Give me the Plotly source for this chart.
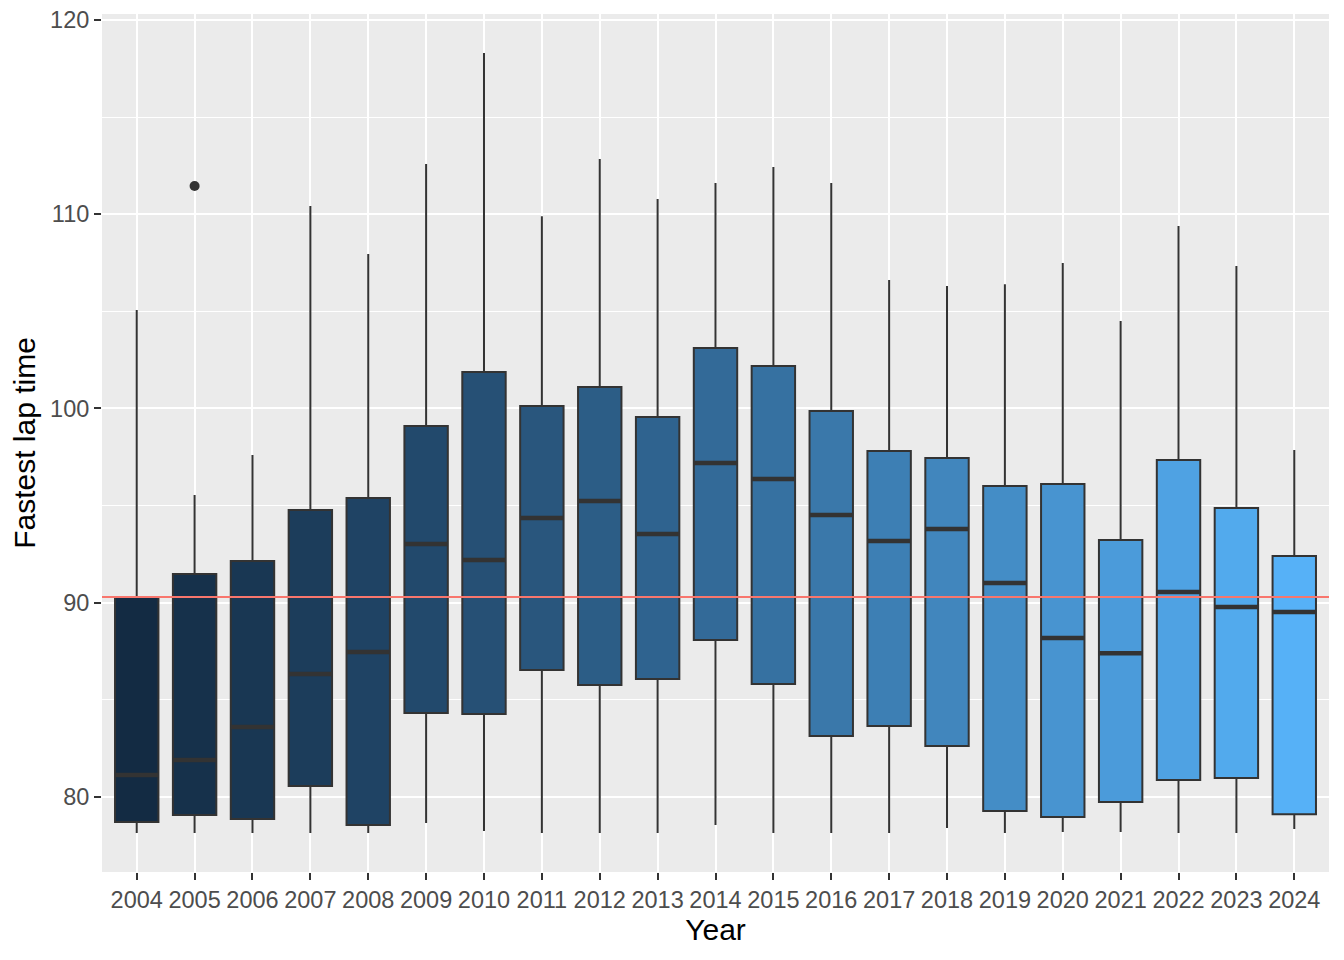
import plotly.graph_objects as go
import numpy as np

years = list(range(2004, 2025))
upper_whisker = [105.07, 95.54, 97.60, 110.42, 107.95, 112.58, 118.30, 109.90, 112.84, 110.78, 111.61,
                 112.43, 111.61, 106.61, 106.30, 106.40, 107.49, 104.50, 109.39, 107.33, 97.86]
q3 = [90.29, 91.47, 92.14, 94.77, 95.39, 99.10, 101.87, 100.12, 101.10, 99.56, 103.11,
      102.18, 99.87, 97.81, 97.45, 96.00, 96.11, 93.22, 97.34, 94.87, 92.40]
medians = [81.12, 81.90, 83.60, 86.32, 87.46, 93.02, 92.20, 94.36, 95.23, 93.53, 97.19,
           96.36, 94.51, 93.17, 93.79, 91.01, 88.18, 87.40, 90.55, 89.77, 89.52]
q1 = [78.70, 79.06, 78.86, 80.56, 78.55, 84.32, 84.27, 86.53, 85.76, 86.07, 88.07,
      85.81, 83.13, 83.65, 82.62, 79.27, 78.96, 79.73, 80.87, 80.97, 79.11]
lower_whisker = [78.14, 78.14, 78.14, 78.14, 78.14, 78.65, 78.24, 78.14, 78.14, 78.14, 78.55,
                 78.14, 78.14, 78.14, 78.39, 78.14, 78.19, 78.19, 78.14, 78.14, 78.34]
outlier_years = [2005]
outlier_values = [111.45]
reference_line = 90.29


# ggplot2 default continuous fill: gradient #132B43 -> #56B1F7 in Lab space
def hex_to_rgb(h):
    h = h.lstrip('#')
    return [int(h[i:i + 2], 16) / 255 for i in (0, 2, 4)]


def srgb_to_lin(c):
    return np.where(c <= 0.04045, c / 12.92, ((c + 0.055) / 1.055) ** 2.4)


def lin_to_srgb(c):
    c = np.clip(c, 0, 1)
    return np.where(c <= 0.0031308, 12.92 * c, 1.055 * c ** (1 / 2.4) - 0.055)


M = np.array([[0.4124, 0.3576, 0.1805], [0.2126, 0.7152, 0.0722], [0.0193, 0.1192, 0.9505]])
Minv = np.linalg.inv(M)
white = np.array([0.95047, 1.0, 1.08883])


def f(t):
    d = 6 / 29
    return np.where(t > d ** 3, np.cbrt(t), t / (3 * d * d) + 4 / 29)


def finv(t):
    d = 6 / 29
    return np.where(t > d, t ** 3, 3 * d * d * (t - 4 / 29))


def to_lab(h):
    xyz = M @ srgb_to_lin(np.array(hex_to_rgb(h))) / white
    fx, fy, fz = f(xyz)
    return np.array([116 * fy - 16, 500 * (fx - fy), 200 * (fy - fz)])


def from_lab(lab):
    L, a, b = lab
    fy = (L + 16) / 116
    fx = fy + a / 500
    fz = fy - b / 200
    xyz = np.array([finv(fx), finv(fy), finv(fz)]) * white
    rgb = lin_to_srgb(Minv @ xyz)
    return '#%02x%02x%02x' % tuple(int(round(v * 255)) for v in rgb)


lab_lo, lab_hi = to_lab('#132B43'), to_lab('#56B1F7')
colors = [from_lab(lab_lo + (y - years[0]) / (years[-1] - years[0]) * (lab_hi - lab_lo)) for y in years]

fig = go.Figure()
box_w = 0.75
for i, y in enumerate(years):
    fig.add_trace(go.Box(
        x=[y], q1=[q1[i]], median=[medians[i]], q3=[q3[i]],
        lowerfence=[lower_whisker[i]], upperfence=[upper_whisker[i]],
        width=box_w, whiskerwidth=0, boxpoints=False,
        fillcolor=colors[i], line=dict(color='#333333', width=2),
        showlegend=False, hoverinfo='skip'))

fig.add_trace(go.Scatter(x=outlier_years, y=outlier_values, mode='markers',
                         marker=dict(color='#333333', size=10), showlegend=False))

shapes = []
for i, y in enumerate(years):
    shapes.append(dict(type='line', xref='x', yref='y', x0=y - box_w / 2, x1=y + box_w / 2,
                       y0=medians[i], y1=medians[i], line=dict(color='#333333', width=4.5), layer='above'))
shapes.append(dict(type='line', xref='paper', yref='y', x0=0, x1=1, y0=reference_line, y1=reference_line,
                   line=dict(color='#F8766D', width=2), layer='above'))

font = 'Liberation Sans, Arial, sans-serif'
fig.update_layout(
    width=1336, height=952,
    margin=dict(l=94, r=15, t=6, b=88),
    paper_bgcolor='white', plot_bgcolor='#EBEBEB',
    shapes=shapes,
    font=dict(family=font),
    xaxis=dict(range=[2003.4, 2024.6], tickmode='array', tickvals=years, ticktext=[str(y) for y in years],
               showgrid=True, gridcolor='white', gridwidth=2, zeroline=False,
               ticks='outside', ticklen=7, tickwidth=2, tickcolor='#333333',
               tickfont=dict(size=23.5, color='#4D4D4D', family=font),
               ticklabeloverflow='allow',
               title=dict(text='Year', font=dict(size=30, color='black', family=font), standoff=6),
               automargin=False),
    yaxis=dict(range=[76.13, 120.31], tickmode='array', tickvals=[80, 90, 100, 110, 120],
               showgrid=True, gridcolor='white', gridwidth=2, zeroline=False,
               minor=dict(tickmode='array', tickvals=[85, 95, 105, 115], showgrid=True,
                          gridcolor='white', gridwidth=1),
               ticks='outside', ticklen=7, tickwidth=2, tickcolor='#333333',
               tickfont=dict(size=23.5, color='#4D4D4D', family=font),
               ticklabeloverflow='allow',
               title=dict(text='Fastest lap time', font=dict(size=30, color='black', family=font), standoff=8),
               automargin=False),
)

fig.write_html('out.html')
